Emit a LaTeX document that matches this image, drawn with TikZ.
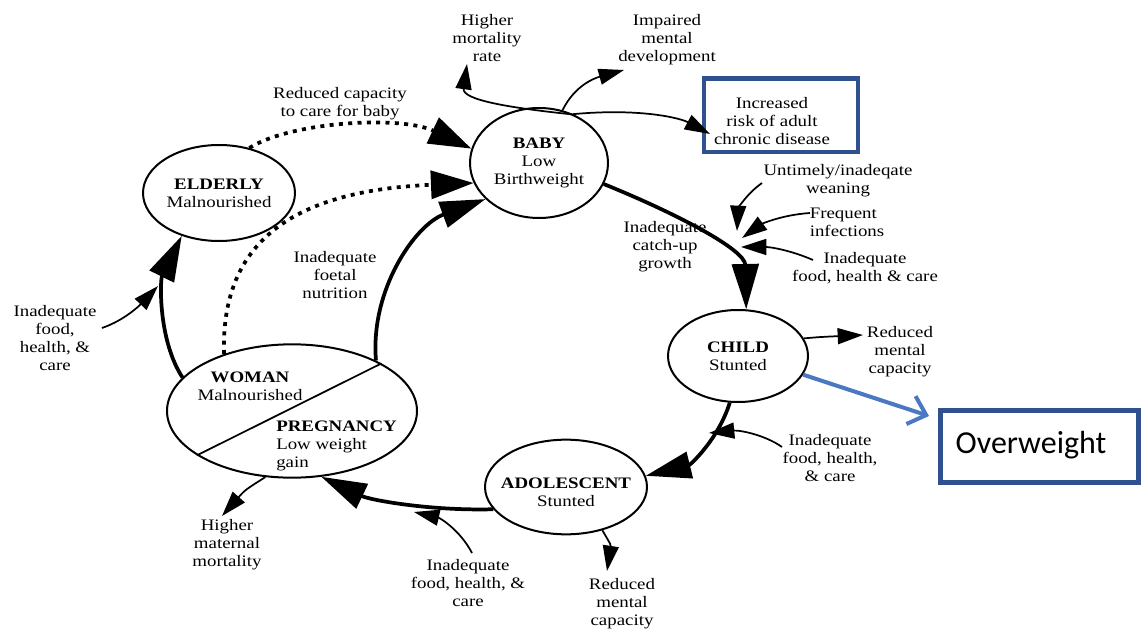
\documentclass[tikz,border=0pt]{standalone}
\usepackage{fontspec}
\setmainfont{Liberation Serif}[FakeStretch=1.18]
\newfontfamily\calib{Carlito}
\usetikzlibrary{arrows.meta,shapes.geometric}
\definecolor{boxblue}{RGB}{47,82,143}
\definecolor{arrblue}{RGB}{75,120,195}
\begin{document}
\begin{tikzpicture}[x=0.75pt,y=-0.75pt,
  every node/.style={font=\fontsize{12}{13.5}\selectfont, align=center, inner sep=0pt},
  stage/.style={ellipse, draw, line width=1.5pt, inner sep=0pt},
  cyc/.style={line width=2.8pt, -{Triangle[length=34pt,width=20pt]}},
  dots/.style={line width=2.8pt, dash pattern=on 3pt off 4pt, -{Triangle[length=32pt,width=21pt]}},
  thinarr/.style={line width=1.3pt, -{Triangle[length=19pt,width=12pt]}},
  bluebox/.style={draw=boxblue, line width=3.5pt},
]
\useasboundingbox (0,0) rectangle (1144,634);

% stages
\node[stage, minimum width=103.5pt, minimum height=82.5pt] (baby) at (539,163) {};
\node[stage, minimum width=114pt, minimum height=72pt] (elderly) at (219,193) {};
\node[stage, minimum width=187.5pt, minimum height=100pt] (woman) at (292,411) {};
\node[stage, minimum width=121.5pt, minimum height=71pt] (ado) at (566,487) {};
\node[stage, minimum width=105pt, minimum height=69pt] (child) at (738,356) {};

\node (babytxt) at (baby.center) {\textbf{BABY}\\Low\\Birthweight};
\node (eldtxt) at (elderly.center) {\textbf{ELDERLY}\\Malnourished};
\node (adotxt) at (566,492) {\textbf{ADOLESCENT}\\Stunted};
\node (childtxt) at (child.center) {\textbf{CHILD}\\Stunted};
\node (womtxt) at (250,386) {\textbf{WOMAN}\\Malnourished};
\node[anchor=west, align=left] (pregtxt) at (276,446) {\textbf{PREGNANCY}\\Low weight\\gain};
\draw[line width=1.3pt] (woman.205) -- (woman.28);

% boxes
\node[bluebox, minimum width=115.5pt, minimum height=55pt] (incbox) at (781,115.5) {};
\node (inc) at (772,121) {Increased\\risk of adult\\chronic disease};
\node[bluebox, minimum width=148.5pt, minimum height=54pt] (ow) at (1039.5,446.5) {};
\node[font=\calib\fontsize{24}{28}\selectfont] (owtxt) at (1031,445) {Overweight};

% labels
\node (hm) at (487,38) {Higher\\mortality\\rate};
\node (imp) at (667,40) {Impaired\\mental\\development};
\node (rcb) at (340,104) {Reduced capacity\\to care for baby};
\node (wean) at (838,181) {Untimely/inadeqate\\weaning};
\node[align=left] (finf) at (847,222) {Frequent\\infections};
\node (ifhc1) at (865,268) {Inadequate\\food, health \& care};
\node (catch) at (665,247) {Inadequate\\catch-up\\growth};
\node (rmc1) at (900,352) {Reduced\\mental\\capacity};
\node (ifhc2) at (830,458) {Inadequate\\food, health,\\\& care};
\node (foetal) at (335,275) {Inadequate\\foetal\\nutrition};
\node (ifhc3) at (55,338) {Inadequate\\food,\\health, \&\\care};
\node (hmm) at (227,545) {Higher\\maternal\\mortality};
\node (ifhc4) at (468,583) {Inadequate\\food, health, \&\\care};
\node (rmc2) at (622,604) {Reduced\\mental\\capacity};

% free ends
\coordinate (hmtip) at (467,64);
\coordinate (imptip) at (624,70);
\coordinate (inctip) at (710,134);
\coordinate (weanS) at (762,183);
\coordinate (weanT) at (737,231);
\coordinate (finfS) at (810,213);
\coordinate (finfT) at (742,238);
\coordinate (ifS1) at (813,260);
\coordinate (ifT1) at (741,247);
\coordinate (rmcT1) at (863,335);
\coordinate (ifS2) at (782,447);
\coordinate (ifT2) at (709,433);
\coordinate (rmcT2) at (607,571);
\coordinate (ifS4) at (472,553);
\coordinate (ifT4) at (414,512);
\coordinate (hmmT) at (222,516);
\coordinate (ifS3) at (102,328);
\coordinate (ifT3) at (158,286);
\coordinate (owtip) at (929,416);

% life cycle arrows
\draw[cyc] (baby.-18) .. controls (680,215) and (745,250) .. (child.80);
\draw[cyc] (child.-100) .. controls (718,440) and (690,465) .. (ado.8);
\draw[cyc] (ado.197) .. controls (430,511) and (370,500) .. (woman.-66);
\draw[cyc] (woman.31) .. controls (370,290) and (415,225) .. (baby.214);
\draw[cyc] (woman.163) .. controls (158,340) and (160,280) .. (elderly.229);
\draw[dots] (elderly.56) .. controls (290,122) and (400,115) .. (baby.168);
\draw[dots] (woman.140) .. controls (220,230) and (310,190) .. (baby.197);

% thin arrows
\draw[thinarr] (baby.54) .. controls (510,108) and (462,100) .. (hmtip);
\draw[thinarr] (baby.66) .. controls (575,85) and (595,78) .. (imptip);
\draw[thinarr] (baby.55) .. controls (640,108) and (680,118) .. (inctip);
\draw[thinarr] (weanS) .. controls (745,195) and (738,210) .. (weanT);
\draw[thinarr] (finfS) .. controls (780,215) and (760,225) .. (finfT);
\draw[thinarr] (ifS1) .. controls (790,250) and (770,247) .. (ifT1);
\draw[thinarr] (child.15) .. controls (820,337) .. (rmcT1);
\draw[thinarr] (ifS2) .. controls (765,435) and (740,430) .. (ifT2);
\draw[thinarr] (ado.-50) .. controls (611,545) .. (rmcT2);
\draw[thinarr] (ifS4) .. controls (460,530) and (440,518) .. (ifT4);
\draw[thinarr] (woman.-112) .. controls (245,490) .. (hmmT);
\draw[thinarr] (ifS3) .. controls (125,320) and (140,305) .. (ifT3);

% blue arrow
\draw[arrblue, line width=3pt, -{Straight Barb[length=12pt,width=22pt]}] (child.-16) -- (owtip);
\end{tikzpicture}
\end{document}
